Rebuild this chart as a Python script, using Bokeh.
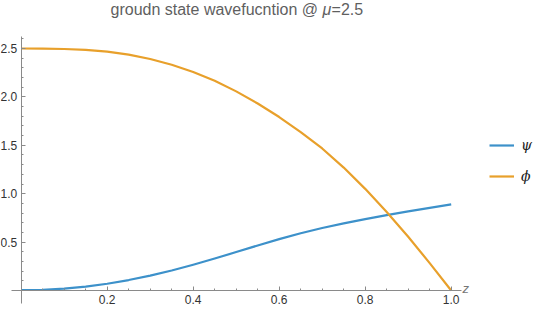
from bokeh.plotting import figure
from bokeh.models import (Range1d, LinearAxis, FixedTicker, Legend, LegendItem, Label,
                          NumeralTickFormatter)
from bokeh.embed import file_html
from bokeh.resources import INLINE

# ---- data ----
z = [0.0, 0.05, 0.1, 0.15, 0.2, 0.25, 0.3, 0.35, 0.4, 0.45, 0.5,
     0.55, 0.6, 0.65, 0.7, 0.75, 0.8, 0.85, 0.9, 0.95, 1.0]
psi = [0.005, 0.008, 0.019, 0.040, 0.070, 0.108, 0.154, 0.207, 0.266, 0.330, 0.397,
       0.465, 0.531, 0.592, 0.646, 0.693, 0.737, 0.778, 0.817, 0.854, 0.890]
phi = [2.5, 2.499, 2.495, 2.485, 2.467, 2.437, 2.392, 2.332, 2.257, 2.167, 2.057,
       1.932, 1.792, 1.637, 1.467, 1.27, 1.05, 0.81, 0.555, 0.283, 0.0]
series_labels = ["ψ", "ϕ"]
x_major = [0.2, 0.4, 0.6, 0.8, 1.0]
x_minor = [0.05, 0.1, 0.15, 0.25, 0.3, 0.35, 0.45, 0.5, 0.55, 0.65, 0.7, 0.75,
           0.85, 0.9, 0.95]
y_major = [0.5, 1.0, 1.5, 2.0, 2.5]
y_minor = [0.1, 0.2, 0.3, 0.4, 0.6, 0.7, 0.8, 0.9, 1.1, 1.2, 1.3, 1.4, 1.6, 1.7,
           1.8, 1.9, 2.1, 2.2, 2.3, 2.4, 2.6]
title_parts = ["groudn state wavefucntion @ ", "μ", "=2.5"]

# ---- layout ----
W, H = 533, 308
X0, SX = 20.7, 430.0     # canvas px of z=0, px per unit
Y0, SY = 290.0, 96.8     # canvas px of value 0, px per unit

p = figure(width=W, height=H, output_backend="svg", toolbar_location=None,
           x_range=Range1d(-X0 / SX, (W - X0) / SX),
           y_range=Range1d(-(H - Y0) / SY, Y0 / SY),
           x_axis_type=None, y_axis_type=None, min_border=0)
p.title.visible = False
p.outline_line_color = None
p.background_fill_color = "white"
p.border_fill_color = "white"

AX = "#8a8a8a"
LBL = "#333333"
FONT = "Liberation Sans"

xaxis = LinearAxis(fixed_location=0, bounds=(-0.0226, 1.024),
                   ticker=FixedTicker(ticks=x_major, minor_ticks=x_minor),
                   formatter=NumeralTickFormatter(format="0.0"))
yaxis = LinearAxis(fixed_location=0, bounds=(-0.134, 2.624),
                   ticker=FixedTicker(ticks=y_major, minor_ticks=y_minor),
                   formatter=NumeralTickFormatter(format="0.0"))
for ax in (xaxis, yaxis):
    ax.axis_line_color = AX
    ax.major_tick_line_color = AX
    ax.minor_tick_line_color = AX
    ax.major_tick_in = 4
    ax.major_tick_out = 0
    ax.minor_tick_in = 2
    ax.minor_tick_out = 0
    ax.major_label_text_font = FONT
    ax.major_label_text_font_size = "12px"
    ax.major_label_text_color = LBL
    ax.major_label_standoff = 4
p.add_layout(xaxis, "below")
p.add_layout(yaxis, "left")

r_psi = p.line(z, psi, line_color="#3d91ca", line_width=2.2, line_join="round")
r_phi = p.line(z, phi, line_color="#e8a02b", line_width=2.2, line_join="round")

legend = Legend(items=[LegendItem(label=series_labels[0], renderers=[r_psi]),
                       LegendItem(label=series_labels[1], renderers=[r_phi])],
                location=(489, 122), orientation="vertical",
                glyph_width=25, glyph_height=20, label_height=20, label_width=20,
                spacing=11, padding=0, margin=0, label_standoff=7,
                border_line_color=None, background_fill_alpha=0,
                label_text_font="DejaVu Serif", label_text_font_style="italic",
                label_text_font_size="14px", label_text_color="#222222")
p.add_layout(legend)

# title pieces
tx = (110 - X0) / SX
ty = Y0 / SY
offs = [0.0, 211.9, 221.1]
styles = ["normal", "italic", "normal"]
for part, off, st in zip(title_parts, offs, styles):
    p.add_layout(Label(x=tx, y=ty, x_offset=off, text=part, text_font=FONT,
                       text_font_size="16px", text_font_style=st,
                       text_color="#5f5f5f", text_baseline="top", text_align="left"))

p.add_layout(Label(x=(462 - X0) / SX, y=2 / SY, text="z", text_font=FONT,
                   text_font_size="13px", text_font_style="italic",
                   text_color="#777777", text_baseline="middle", text_align="left"))

open("out.html", "w").write(file_html(p, INLINE))
